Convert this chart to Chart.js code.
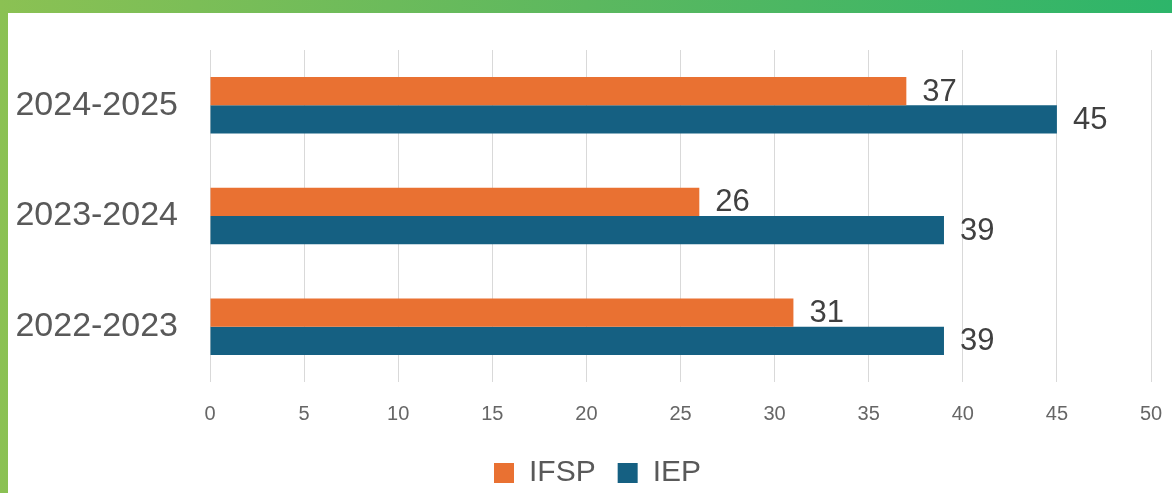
<!DOCTYPE html>
<html>
<head>
<meta charset="utf-8">
<script src="https://cdn.jsdelivr.net/npm/chart.js@4.4.1/dist/chart.umd.min.js"></script>
<style>
  html, body { margin: 0; padding: 0; }
  body { width: 1172px; height: 493px; overflow: hidden; }
  .frame {
    width: 1172px; height: 493px; box-sizing: border-box;
    padding: 13px 0 0 8px;
    background: linear-gradient(90deg, #8bc153 0%, #5cb85f 50%, #2db56a 100%);
  }
  .inner { width: 1164px; height: 480px; background: #fff; position: relative; }
  #chart { display: block; }
</style>
</head>
<body>
<div class="frame">
  <div class="inner">
    <canvas id="chart" width="1164" height="480"></canvas>
  </div>
</div>
<script>
// 데이터
const years = ['2024-2025', '2023-2024', '2022-2023'];
const ifspValues = [37, 26, 31];
const iepValues = [45, 39, 39];
const xTicks = [0, 5, 10, 15, 20, 25, 30, 35, 40, 45, 50];

const FONT = "'Liberation Sans', Arial, sans-serif";

// 막대 끝에 값 표시
const valueLabels = {
  id: 'valueLabels',
  afterDatasetsDraw(chart) {
    const ctx = chart.ctx;
    ctx.save();
    ctx.font = '31px ' + FONT;
    ctx.fillStyle = '#404040';
    ctx.textAlign = 'left';
    ctx.textBaseline = 'middle';
    chart.data.datasets.forEach((ds, i) => {
      const meta = chart.getDatasetMeta(i);
      meta.data.forEach((bar, j) => {
        ctx.fillText(String(ds.data[j]), bar.x + 16, bar.y + 1);
      });
    });
    ctx.restore();
  }
};

// 범례 위치 조정 (조금 아래, 조금 오른쪽)
const legendTrim = {
  id: 'legendTrim',
  beforeInit(chart) {
    const legend = chart.legend;
    if (legend) {
      const fit = legend.fit;
      legend.fit = function () {
        fit.call(this);
        this.height -= 5;
      };
    }
  },
  afterLayout(chart) {
    const legend = chart.legend;
    if (legend) {
      legend.left += 18;
      legend.right += 18;
    }
  }
};

const ctx = document.getElementById('chart');
new Chart(ctx, {
  type: 'bar',
  data: {
    labels: years,
    datasets: [
      {
        label: 'IFSP',
        data: ifspValues,
        backgroundColor: '#E97132',
        barPercentage: 1,
        categoryPercentage: 0.51,
      },
      {
        label: 'IEP',
        data: iepValues,
        backgroundColor: '#156082',
        barPercentage: 1,
        categoryPercentage: 0.51,
      },
    ],
  },
  options: {
    indexAxis: 'y',
    responsive: false,
    animation: false,
    layout: { padding: { top: 37, right: 21, left: 0, bottom: 0 } },
    plugins: {
      tooltip: { enabled: false },
      legend: {
        position: 'bottom',
        labels: {
          color: '#595959',
          font: { family: FONT, size: 30 },
          boxWidth: 20,
          boxHeight: 20,
          padding: 22,
        },
      },
    },
    scales: {
      x: {
        min: 0,
        max: 50,
        afterBuildTicks: (scale) => { scale.ticks = xTicks.map(v => ({ value: v })); },
        afterFit: (scale) => {
          scale.height -= 10;
          scale.paddingRight = 11; // 눈금 여백이 오른쪽 여백에 더해지지 않게
        },
        grid: { color: '#d9d9d9', drawTicks: false },
        border: { display: false },
        ticks: {
          color: '#666666',
          font: { family: FONT, size: 20 },
          padding: 20,
        },
      },
      y: {
        afterFit: (scale) => { scale.width = 202; },
        grid: { display: false, drawTicks: true, tickLength: 32 },
        border: { display: false },
        ticks: {
          color: '#595959',
          font: { family: FONT, size: 34 },
          padding: 0,
        },
      },
    },
  },
  plugins: [valueLabels, legendTrim],
});
</script>
</body>
</html>
